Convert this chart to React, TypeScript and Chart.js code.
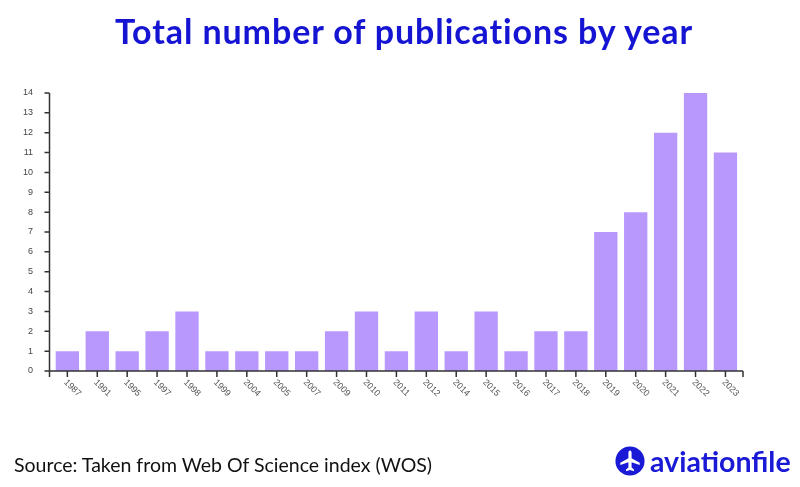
import React, { useEffect, useRef } from "react";
import { Chart, registerables } from "chart.js";

Chart.register(...registerables);

const years = ["1987","1991","1995","1997","1998","1999","2004","2005","2007","2009","2010","2011","2012","2014","2015","2016","2017","2018","2019","2020","2021","2022","2023"];
const publications = [1,2,1,2,3,1,1,1,1,2,3,1,3,1,3,1,2,2,7,8,12,14,11];
const yTickMax = 14;
const titleText = "Total number of publications by year";
const sourceText = "Source: Taken from Web Of Science index (WOS)";
const brandText = "aviationfile";

const AXIS = "#333333";
const AXIS_LEFT = 49.5;
const AXIS_RIGHT = 743;

const axisPlugin = {
  id: "customAxes",
  afterDraw(chart: any) {
    const ctx = chart.ctx;
    const xs = chart.scales.x;
    const ys = chart.scales.y;
    const area = chart.chartArea;
    const y0 = ys.getPixelForValue(0);
    const yTop = ys.getPixelForValue(yTickMax);
    ctx.save();
    ctx.strokeStyle = AXIS;
    ctx.lineWidth = 1.5;
    ctx.beginPath();
    ctx.moveTo(AXIS_LEFT, yTop);
    ctx.lineTo(AXIS_LEFT, y0);
    for (let v = 0; v <= yTickMax; v++) {
      const y = ys.getPixelForValue(v);
      ctx.moveTo(AXIS_LEFT - 5, y);
      ctx.lineTo(AXIS_LEFT, y);
    }
    ctx.moveTo(AXIS_LEFT, y0);
    ctx.lineTo(AXIS_RIGHT, y0);
    ctx.moveTo(AXIS_LEFT, y0);
    ctx.lineTo(AXIS_LEFT, y0 + 6);
    ctx.moveTo(AXIS_RIGHT, y0);
    ctx.lineTo(AXIS_RIGHT, y0 + 6);
    chart.data.labels.forEach((_: string, i: number) => {
      const x = xs.getPixelForValue(i);
      ctx.moveTo(x, y0);
      ctx.lineTo(x, y0 + 6);
    });
    ctx.stroke();

    ctx.fillStyle = "#555555";
    ctx.font = "9px 'Liberation Sans', Arial, sans-serif";
    ctx.textAlign = "left";
    ctx.textBaseline = "middle";
    chart.data.labels.forEach((lab: string, i: number) => {
      const x = xs.getPixelForValue(i);
      ctx.save();
      ctx.translate(x - 2, area.bottom + 10);
      ctx.rotate(Math.PI / 4);
      ctx.fillText(lab, 0, 0);
      ctx.restore();
    });
    ctx.restore();
  },
};

export default function App() {
  const ref = useRef<HTMLCanvasElement | null>(null);
  useEffect(() => {
    if (!ref.current) return;
    const chart = new Chart(ref.current, {
      type: "bar",
      data: {
        labels: years,
        datasets: [
          {
            data: publications,
            backgroundColor: "#b898fd",
            borderWidth: 0,
            barPercentage: 0.78,
            categoryPercentage: 1,
          },
        ],
      },
      options: {
        animation: false,
        responsive: false,
        maintainAspectRatio: false,
        layout: { padding: { left: 0.4, right: 59.6, top: 93, bottom: 0 } },
        plugins: { legend: { display: false }, tooltip: { enabled: false }, title: { display: false } },
        scales: {
          x: {
            offset: true,
            grid: { display: false },
            border: { display: false },
            ticks: { display: false },
            afterFit(scale: any) { scale.height = 116; },
          },
          y: {
            min: 0,
            max: yTickMax,
            grid: { display: false },
            border: { display: false },
            ticks: { stepSize: 1, color: "#444444", padding: 11.4, font: { size: 9, family: "'Liberation Sans', Arial, sans-serif" } },
            afterFit(scale: any) { scale.width = 52; },
          },
        },
      },
      plugins: [axisPlugin],
    });
    return () => chart.destroy();
  }, []);

  return (
    <div style={{ position: "absolute", left: 0, top: 0, width: 800, height: 487, background: "#fff", overflow: "hidden" }}>
      <canvas ref={ref} width={800} height={487} style={{ position: "absolute", left: 0, top: 0 }} />
      <div style={{ position: "absolute", left: 4, top: 10, width: 800, textAlign: "center", fontFamily: "Lato, 'Open Sans', sans-serif", fontWeight: 700, fontSize: 34, letterSpacing: 0.9, color: "#1414d2", whiteSpace: "nowrap" }}>
        {titleText}
      </div>
      <div style={{ position: "absolute", left: 14, top: 453, fontFamily: "Lato, 'Open Sans', sans-serif", fontSize: 19.5, color: "#111", whiteSpace: "nowrap" }}>
        {sourceText}
      </div>
      <div style={{ position: "absolute", left: 615, top: 446, display: "flex", alignItems: "center", whiteSpace: "nowrap" }}>
        <svg width="30" height="30" viewBox="0 0 34 34">
          <circle cx="17" cy="17" r="16.5" fill="#1a1ad6" />
          <path d="M17 5 C18.3 5 18.8 6.5 18.8 8 L18.8 14 L28 19 L28 21.5 L18.8 18.5 L18.8 24.5 L21.5 26.5 L21.5 28.5 L17 27.2 L12.5 28.5 L12.5 26.5 L15.2 24.5 L15.2 18.5 L6 21.5 L6 19 L15.2 14 L15.2 8 C15.2 6.5 15.7 5 17 5 Z" fill="#fff" />
        </svg>
        <span style={{ fontFamily: "Lato, 'Open Sans', sans-serif", fontWeight: 700, fontSize: 28.5, color: "#1a1ad6", marginLeft: 5, lineHeight: "30px" }}>
          {brandText}
        </span>
      </div>
    </div>
  );
}
